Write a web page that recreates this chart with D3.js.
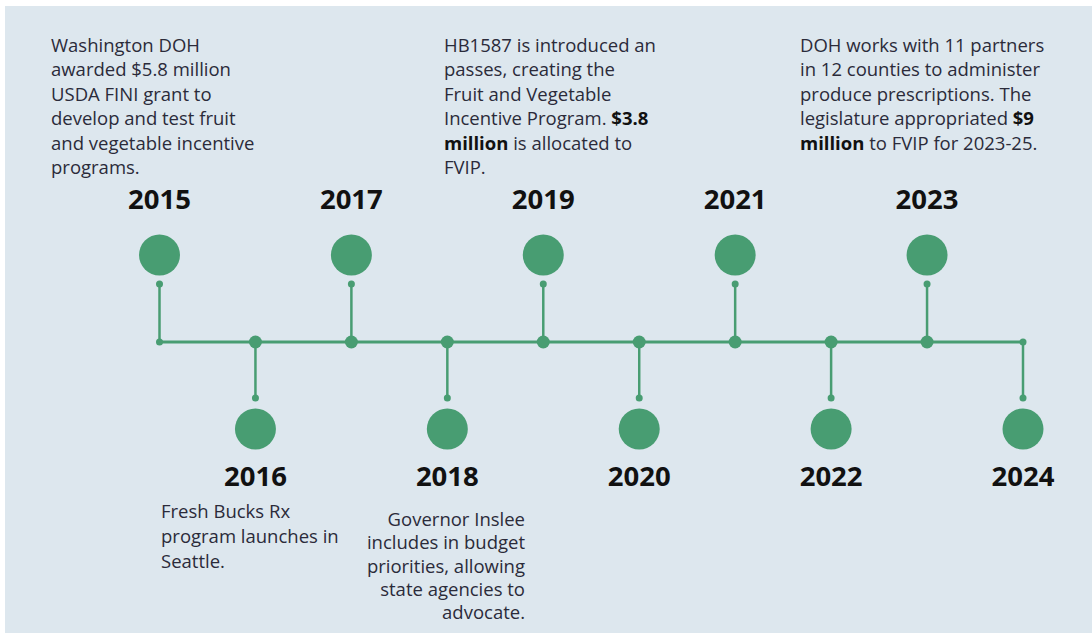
<!DOCTYPE html>
<html>
<head>
<meta charset="utf-8">
<script src="https://cdn.jsdelivr.net/npm/d3@7"></script>
<style>
  html, body { margin: 0; padding: 0; background: #fff; }
  svg { display: block; }
</style>
</head>
<body>
<svg id="chart" width="1092" height="633"></svg>
<script>
// timeline data
const years = [2015, 2016, 2017, 2018, 2019, 2020, 2021, 2022, 2023, 2024];
const sides = ["top", "bottom", "top", "bottom", "top", "bottom", "top", "bottom", "top", "bottom"];

// notes: ** marks bold
const note2015 = [
  "Washington DOH",
  "awarded $5.8 million",
  "USDA FINI grant to",
  "develop and test fruit",
  "and vegetable incentive",
  "programs."
];
const note2016 = [
  "Fresh Bucks Rx",
  "program launches in",
  "Seattle."
];
const note2018 = [
  "Governor Inslee",
  "includes in budget",
  "priorities, allowing",
  "state agencies to",
  "advocate."
];
const note2019 = [
  "HB1587 is introduced an",
  "passes, creating the",
  "Fruit and Vegetable",
  "Incentive Program. **$3.8**",
  "**million** is allocated to",
  "FVIP."
];
const note2023 = [
  "DOH works with 11 partners",
  "in 12 counties to administer",
  "produce prescriptions. The",
  "legislature appropriated **$9**",
  "**million** to FVIP for 2023-25."
];

const notes = [
  { year: 2015, lines: note2015, x: 51, y: 52, step: 24.4, anchor: "start" },
  { year: 2019, lines: note2019, x: 444, y: 52, step: 24.4, anchor: "start" },
  { year: 2023, lines: note2023, x: 800, y: 52, step: 24.4, anchor: "start" },
  { year: 2016, lines: note2016, x: 161, y: 518, step: 25, anchor: "start" },
  { year: 2018, lines: note2018, x: 525, y: 526, step: 23.3, anchor: "end" }
];

const green = "#489d72";
const svg = d3.select("#chart");

svg.append("rect")
  .attr("x", 5).attr("y", 6)
  .attr("width", 1087).attr("height", 627)
  .attr("fill", "#dde7ee");

const x = d3.scaleLinear().domain([2015, 2024]).range([159.5, 1023]);
const axisY = 342;
const y = d3.scaleOrdinal().domain(["top", "bottom"]).range([255, 429]);
const stemEnd = d3.scaleOrdinal().domain(["top", "bottom"]).range([284, 398]);
const labelY = d3.scaleOrdinal().domain(["top", "bottom"]).range([209, 486]);

const g = svg.append("g");

g.append("line")
  .attr("x1", x(years[0])).attr("x2", x(years[years.length - 1]))
  .attr("y1", axisY).attr("y2", axisY)
  .attr("stroke", green).attr("stroke-width", 3);

const ev = g.selectAll("g.ev")
  .data(years.map((yr, i) => ({ yr, side: sides[i], i })))
  .join("g").attr("class", "ev");

ev.append("line")
  .attr("x1", d => x(d.yr)).attr("x2", d => x(d.yr))
  .attr("y1", axisY).attr("y2", d => stemEnd(d.side))
  .attr("stroke", green).attr("stroke-width", 2.5);

ev.append("circle")
  .attr("cx", d => x(d.yr)).attr("cy", axisY)
  .attr("r", d => (d.i === 0 || d.i === years.length - 1) ? 3.5 : 6.5)
  .attr("fill", green);

ev.append("circle")
  .attr("cx", d => x(d.yr)).attr("cy", d => stemEnd(d.side))
  .attr("r", 3.5)
  .attr("fill", green);

ev.append("circle")
  .attr("cx", d => x(d.yr)).attr("cy", d => y(d.side))
  .attr("r", 20.5)
  .attr("fill", green);

ev.append("text")
  .attr("x", d => x(d.yr)).attr("y", d => labelY(d.side))
  .attr("text-anchor", "middle")
  .attr("font-family", "'Open Sans', sans-serif")
  .attr("font-weight", 700)
  .attr("font-size", 27.5)
  .attr("fill", "#111")
  .text(d => d.yr);

// notes
notes.forEach(n => {
  const t = g.append("text")
    .attr("font-family", "'Open Sans', sans-serif")
    .attr("font-size", 18.5)
    .attr("fill", "#2b2b3a")
    .attr("text-anchor", n.anchor);
  n.lines.forEach((line, li) => {
    const parts = line.split("**");
    parts.forEach((p, pi) => {
      if (p === "") return;
      const ts = t.append("tspan").text(p)
        .attr("font-weight", pi % 2 === 1 ? 700 : 400)
        .attr("fill", pi % 2 === 1 ? "#111" : null);
      if (pi === 0 || (pi === 1 && parts[0] === "")) {
        ts.attr("x", n.x).attr("y", n.y + li * n.step);
      }
    });
  });
});
</script>
</body>
</html>
